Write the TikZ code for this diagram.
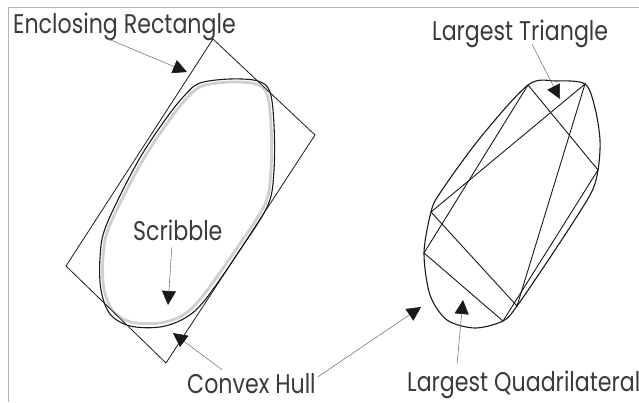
\documentclass[tikz,border=0pt]{standalone}
\usepackage{fontspec}
\usetikzlibrary{arrows.meta}
\newfontfamily\labelfont[FakeStretch=0.82]{Poppins}
\definecolor{figink}{HTML}{1A1A1A}
\definecolor{figlabel}{HTML}{3A3A3A}
\definecolor{figpointer}{HTML}{7A7A7A}
\definecolor{figframe}{HTML}{B4B4B4}
\definecolor{figscribble}{HTML}{CFCFCF}
\tikzset{
  frame line/.style={draw=figframe, line width=0.9pt},
  box line/.style={draw=figink, line width=0.8pt, line join=miter},
  hull line/.style={draw=figink, line width=1.1pt},
  scribble line/.style={draw=figscribble, line width=2.8pt, line cap=round},
  poly line/.style={draw=figink, line width=0.9pt},
  pointer/.style={draw=figpointer, line width=0.6pt,
    -{Triangle[length=14pt, width=14pt, color=figink]}},
  shape label/.style={font=\labelfont\fontsize{27}{30}\selectfont,
    text=figlabel, inner sep=0pt, anchor=base west},
}

\begin{document}
\begin{tikzpicture}[x=1pt, y=-1pt]
  \useasboundingbox (0,0) rectangle (639,402);
  % Screenshot frame, only its top and left edges show.
  \draw[frame line] (639,7) -- (8,7) -- (8,402);

  % Left figure: scribble, its convex hull and the enclosing rectangle.
  \coordinate (r1) at (213,39);
  \coordinate (r2) at (315,135);
  \coordinate (r3) at (166,363);
  \coordinate (r4) at (66,266);
  \draw[scribble line] plot[smooth cycle, tension=0.55] coordinates {
    (202,86) (230,82) (256,84) (267,94) (271,125) (271,170) (265,204)
    (237,248) (202,297) (183,315) (160,323) (131,322) (113,311)
    (104,289) (103,258) (109,227) (140,165) (168,122) (187,98)};
  \draw[hull line] plot[smooth cycle, tension=0.55] coordinates {
    (200,83) (230,79) (258,81) (270,92) (274,125) (274,170) (268,205)
    (240,250) (205,300) (185,318) (160,327) (130,326) (110,314)
    (101,290) (100,258) (106,226) (137,163) (165,120) (185,95)};
  \draw[box line] (r1) -- (r2) -- (r3) -- (r4) -- cycle;

  % Right figure: hull with the largest triangle and quadrilateral.
  \coordinate (q1) at (528,85);
  \coordinate (q2) at (598,170);
  \coordinate (q3) at (503,321);
  \coordinate (q4) at (424,253);
  \coordinate (t1) at (585,84);
  \coordinate (t2) at (431,212);
  \coordinate (t3) at (517,306);
  \draw[hull line] plot[smooth cycle, tension=0.5] coordinates {
    (q1) (556,81) (t1) (595,108) (600,140) (q2) (590,195) (555,250)
    (t3) (q3) (475,328) (447,320) (430,295) (q4) (t2) (440,193)
    (480,138)};
  \draw[poly line] (t1) -- (t2) -- (t3) -- cycle;
  \draw[poly line] (q1) -- (q2) -- (q3) -- (q4) -- cycle;

  % Labels and their pointers.
  \node[shape label] (rect label) at (13,33) {Enclosing Rectangle};
  \node[shape label] (scribble label) at (133,240) {Scribble};
  \node[shape label] (hull label) at (187,393) {Convex Hull};
  \node[shape label] (tri label) at (432,40) {Largest Triangle};
  \node[shape label] (quad label) at (407,391) {Largest Quadrilateral};

  \coordinate (rect tip) at (187,72);
  \coordinate (scribble tip) at (168,305);
  \coordinate (hull tip left) at (173,333);
  \coordinate (hull tip right) at (421,307);
  \coordinate (tri tip) at (560,99);
  \coordinate (quad tip) at (463,300);
  \draw[pointer] ([shift={(94,-2)}]rect label.south west) -- (rect tip);
  \draw[pointer] ([shift={(-6,7)}]scribble label.south) -- (scribble tip);
  \draw[pointer] ([shift={(35,-3)}]hull label.north west) -- (hull tip left);
  \draw[pointer] ([shift={(2,4)}]hull label.north east) -- (hull tip right);
  \draw[pointer] ([shift={(12,-3)}]tri label.south) -- (tri tip);
  \draw[pointer] ([shift={(50,-6)}]quad label.north west) -- (quad tip);
\end{tikzpicture}
\end{document}
